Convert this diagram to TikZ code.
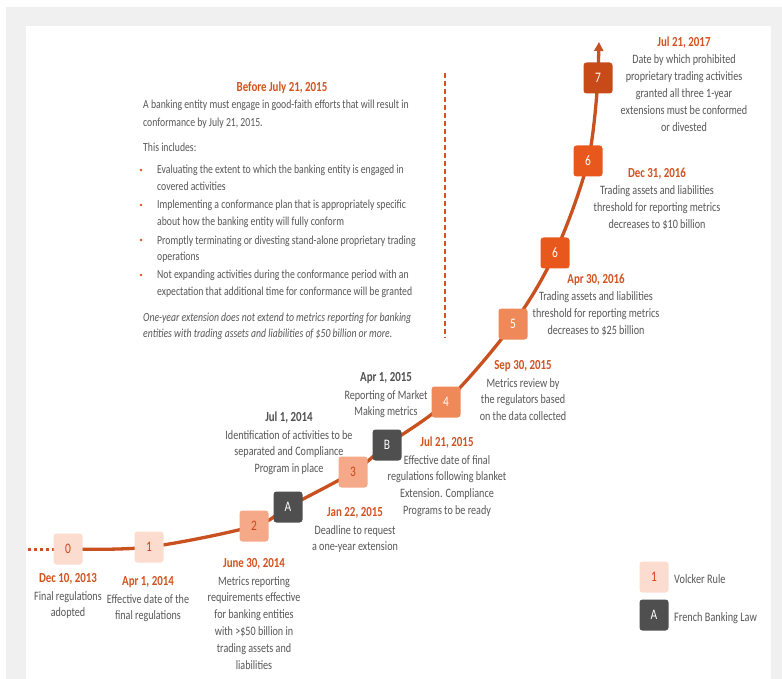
\documentclass[tikz,border=0pt]{standalone}
\usepackage{fontspec}
\setmainfont{Carlito}[FakeStretch=0.79]
\usetikzlibrary{arrows.meta}
\pgfdeclarelayer{frame}
\pgfdeclarelayer{background}
\pgfsetlayers{frame,background,main}

\definecolor{framegray}{HTML}{F0F0F0}
\definecolor{curveorange}{HTML}{C9501F}
\definecolor{dateorange}{HTML}{D2521E}
\definecolor{dategray}{HTML}{505050}
\definecolor{bodytext}{HTML}{575757}
\definecolor{pinkbox}{HTML}{FBDCCE}
\definecolor{salmonbox}{HTML}{F6A988}
\definecolor{midbox}{HTML}{F0895A}
\definecolor{deepbox}{HTML}{E8581C}
\definecolor{darkbox}{HTML}{C84A19}
\definecolor{graybox}{HTML}{4F4F4F}
\definecolor{numorange}{HTML}{C9461A}

% one milestone caption: name, x, y of date, date colour, date, body lines
\newcommand\milestone[6]{%
  \node[datelabel,text=#4] (#1) at (#2,#3+4.5) {#5};
  \foreach \bl [count=\k] in {#6}
    \node[bodylabel] (#1-\k) at (#2,#3+22+16.8*\k-16.8) {\bl};
}

\begin{document}
\begin{tikzpicture}[x=1pt,y=-1pt,
  stepbox/.style={rounded corners=3pt, minimum width=29pt, minimum height=31pt,
    inner sep=0pt, font=\fontsize{14.5}{14.5}\selectfont},
  volcker/.style={stepbox, fill=pinkbox, text=numorange},
  lowbox/.style={stepbox, fill=salmonbox, text=numorange},
  midstep/.style={stepbox, fill=midbox, text=white},
  deepstep/.style={stepbox, fill=deepbox, text=white},
  laststep/.style={stepbox, fill=darkbox, text=white},
  french/.style={stepbox, fill=graybox, text=white},
  datelabel/.style={anchor=base, inner sep=0pt, font=\fontsize{13.8}{16}\selectfont\bfseries},
  bodylabel/.style={anchor=base, inner sep=0pt, text=bodytext, font=\fontsize{12.8}{15}\selectfont},
  blocktext/.style={anchor=base west, inner sep=0pt, text=bodytext, font=\fontsize{12.3}{15}\selectfont},
  legendtext/.style={anchor=base west, inner sep=0pt, text=bodytext, font=\fontsize{13}{15}\selectfont},
  timeline/.style={draw=curveorange, line width=3.3pt},
  bulletdot/.style={circle, fill=dateorange, inner sep=0pt, minimum size=2.6pt}
]
\useasboundingbox (0,0) rectangle (782,679);

% frame
\begin{pgfonlayer}{frame}
  \fill[framegray] (6,7) rectangle (782,679);
  \fill[white] (26,26) rectangle (771,679);
\end{pgfonlayer}

% timeline steps
\node[volcker]  (b0)  at (68,549)  {0};
\node[volcker]  (b1)  at (149,547) {1};
\node[lowbox]   (b2)  at (254,526) {2};
\node[french]   (bA)  at (288,507) {A};
\node[lowbox]   (b3)  at (353,472) {3};
\node[french]   (bB)  at (387,445) {B};
\node[midstep]  (b4)  at (446,402) {4};
\node[midstep]  (b5)  at (513,324) {5};
\node[deepstep] (b6)  at (555,253) {6};
\node[deepstep] (b6b) at (588,161) {6};
\node[laststep] (b7)  at (598,78)  {7};
\coordinate (tip) at (599,42);
\coordinate (dotstart) at (28,549);

\begin{pgfonlayer}{background}
  \draw[timeline] plot[smooth, tension=0.55] coordinates {(b0.center) (b1.center) (b2.center) (bA.center) (b3.center) (bB.center) (b4.center) (b5.center) (b6.center) (b6b.center) (b7.center)};
  \draw[timeline, -{Triangle[width=9pt,length=9pt]}] (b7.center) -- (tip);
  \draw[draw=curveorange, line width=3pt, dash pattern=on 3pt off 3pt] (dotstart) -- (b0.center);
\end{pgfonlayer}

% separator
\coordinate (sepTop) at (445,73);
\coordinate (sepBot) at (445,338);
\draw[draw=dateorange, line width=1.2pt, dash pattern=on 5pt off 3pt] (sepTop) -- (sepBot);

% left text block
\node[datelabel, text=dateorange] (before) at (282,91.5) {Before July 21, 2015};
\node[blocktext] (t1) at (143,109) {A banking entity must engage in good-faith efforts that will result in};
\node[blocktext] (t2) at (143,127) {conformance by July 21, 2015.};
\node[blocktext] (t3) at (143,152) {This includes:};
\node[blocktext] (t4) at (157,174) {Evaluating the extent to which the banking entity is engaged in};
\node[blocktext] (t5) at (157,191) {covered activities};
\node[blocktext] (t6) at (157,209) {Implementing a conformance plan that is appropriately specific};
\node[blocktext] (t7) at (157,226) {about how the banking entity will fully conform};
\node[blocktext] (t8) at (157,244) {Promptly terminating or divesting stand-alone proprietary trading};
\node[blocktext] (t9) at (157,261) {operations};
\node[blocktext] (t10) at (157,279) {Not expanding activities during the conformance period with an};
\node[blocktext] (t11) at (157,295) {expectation that additional time for conformance will be granted};
\node[blocktext, font=\fontsize{12.3}{15}\selectfont\itshape] (t12) at (143,321) {One-year extension does not extend to metrics reporting for banking};
\node[blocktext, font=\fontsize{12.3}{15}\selectfont\itshape] (t13) at (143,337) {entities with trading assets and liabilities of \$50 billion or more.};
\foreach \yy [count=\i] in {170,205,240,275}
  \node[bulletdot] (dot\i) at (141,\yy) {};

% milestone captions
\milestone{m0}{68}{578}{dateorange}{Dec 10, 2013}{Final regulations, adopted}
\milestone{m1}{148}{581}{dateorange}{Apr 1, 2014}{Effective date of the, final regulations}
\milestone{m2}{254}{563}{dateorange}{June 30, 2014}{Metrics reporting, requirements effective, for banking entities, with >\$50 billion in, trading assets and, liabilities}
\milestone{mA}{289}{417}{dategray}{Jul 1, 2014}{Identification of activities to be, separated and Compliance, Program in place}
\milestone{m3}{355}{512}{dateorange}{Jan 22, 2015}{Deadline to request, a one-year extension}
\milestone{mB}{386}{377}{dategray}{Apr 1, 2015}{Reporting of Market, Making metrics}
\milestone{m4}{447}{442}{dateorange}{Jul 21, 2015}{Effective date of final, regulations following blanket, Extension. Compliance, Programs to be ready}
\milestone{m5}{523}{365}{dateorange}{Sep 30, 2015}{Metrics review by, the regulators based, on the data collected}
\milestone{m6}{596}{279}{dateorange}{Apr 30, 2016}{Trading assets and liabilities, threshold for reporting metrics, decreases to \$25 billion}
\milestone{m6b}{657}{173}{dateorange}{Dec 31, 2016}{Trading assets and liabilities, threshold for reporting metrics, decreases to \$10 billion}
\milestone{m7}{684}{42}{dateorange}{Jul 21, 2017}{Date by which prohibited, proprietary trading activities, granted all three 1-year, extensions must be conformed, or divested}

% legend
\node[volcker] (lg1) at (654,577) {1};
\node[french]  (lgA) at (654,615) {A};
\node[legendtext] (lg1t) at (674,583) {Volcker Rule};
\node[legendtext] (lgAt) at (674,621) {French Banking Law};
\end{tikzpicture}
\end{document}
